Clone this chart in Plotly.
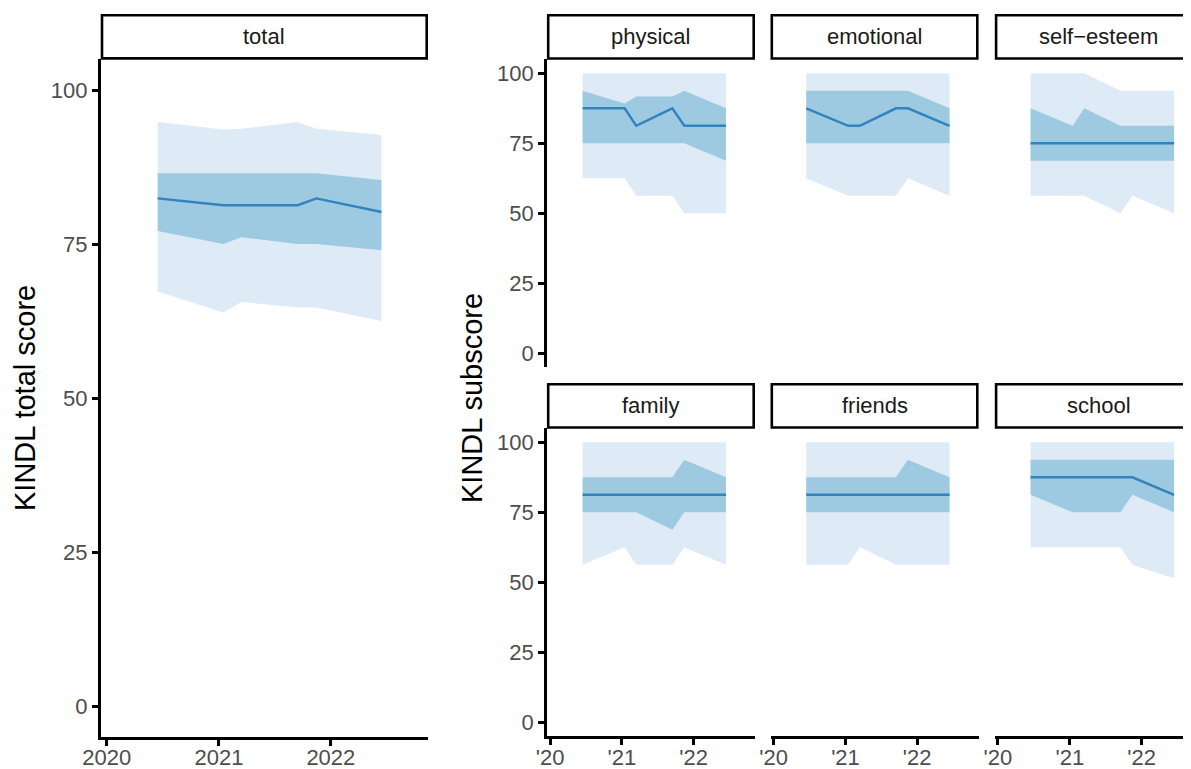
import plotly.graph_objects as go

W, H = 1191, 769
# the page body adds an 8px margin; place everything relative to the visible window
OX, OY = 8, 8

# ---------------- data ----------------
dates = ["2020-06-15", "2021-01-15", "2021-03-15", "2021-09-15", "2021-11-15", "2022-06-15"]

total_outer_hi = [94.8, 93.6, 93.7, 94.8, 93.7, 92.7]
total_inner_hi = [86.5, 86.5, 86.5, 86.5, 86.5, 85.4]
total_median = [82.4, 81.3, 81.3, 81.3, 82.4, 80.2]
total_inner_lo = [77.1, 75.0, 76.1, 75.0, 75.0, 74.0]
total_outer_lo = [67.3, 63.9, 65.6, 64.7, 64.7, 62.5]

physical_outer_hi = [100, 100, 100, 100, 100, 100]
physical_inner_hi = [93.75, 89.2, 91.7, 91.7, 93.75, 87.5]
physical_median = [87.5, 87.5, 81.25, 87.5, 81.25, 81.25]
physical_inner_lo = [75, 75, 75, 75, 75, 68.75]
physical_outer_lo = [62.5, 62.5, 56.25, 56.25, 50, 50]

emotional_outer_hi = [100, 100, 100, 100, 100, 100]
emotional_inner_hi = [93.75, 93.75, 93.75, 93.75, 93.75, 87.5]
emotional_median = [87.5, 81.25, 81.25, 87.5, 87.5, 81.25]
emotional_inner_lo = [75, 75, 75, 75, 75, 75]
emotional_outer_lo = [62.5, 56.25, 56.25, 56.25, 62.5, 56.25]

selfesteem_outer_hi = [100, 100, 100, 93.75, 93.75, 93.75]
selfesteem_inner_hi = [87.5, 81.25, 87.5, 81.25, 81.25, 81.25]
selfesteem_median = [75, 75, 75, 75, 75, 75]
selfesteem_inner_lo = [68.75, 68.75, 68.75, 68.75, 68.75, 68.75]
selfesteem_outer_lo = [56.25, 56.25, 56.25, 50, 56.25, 50]

family_outer_hi = [100, 100, 100, 100, 100, 100]
family_inner_hi = [87.5, 87.5, 87.5, 87.5, 93.75, 87.5]
family_median = [81.25, 81.25, 81.25, 81.25, 81.25, 81.25]
family_inner_lo = [75, 75, 75, 68.75, 75, 75]
family_outer_lo = [56.25, 62.5, 56.25, 56.25, 62.5, 56.25]

friends_outer_hi = [100, 100, 100, 100, 100, 100]
friends_inner_hi = [87.5, 87.5, 87.5, 87.5, 93.75, 87.5]
friends_median = [81.25, 81.25, 81.25, 81.25, 81.25, 81.25]
friends_inner_lo = [75, 75, 75, 75, 75, 75]
friends_outer_lo = [56.25, 56.25, 62.5, 56.25, 56.25, 56.25]

school_outer_hi = [100, 100, 100, 100, 100, 100]
school_inner_hi = [93.75, 93.75, 93.75, 93.75, 93.75, 93.75]
school_median = [87.5, 87.5, 87.5, 87.5, 87.5, 81.25]
school_inner_lo = [81.25, 75, 75, 75, 81.25, 75]
school_outer_lo = [62.5, 62.5, 62.5, 62.5, 56.25, 51.4]

y_ticks = [0, 25, 50, 75, 100]
x_tickvals = ["2020-01-01", "2021-01-01", "2022-01-01"]
x_ticktext_total = ["2020", "2021", "2022"]
x_ticktext_sub = ["'20", "'21", "'22"]

# ---------------- style ----------------
C_OUTER = "#deebf7"
C_INNER = "#9ecae1"
C_LINE = "#3182bd"
FONT = "Liberation Sans, Arial, sans-serif"
TICK_FONT = dict(family=FONT, size=22, color="#4d4d4d")
LW = 2.6

fig = go.Figure()


def px_x(v):
    return min(1.0, max(0.0, (v - OX) / W))


def px_y(v):
    return min(1.0, max(0.0, 1 - (v - OY) / H))


panels = [
    ("total", "total", 1, (100.7, 428.0), (59.2, 736.8), ["2019-12-12", "2022-11-14"], True, True,
     total_outer_lo, total_outer_hi, total_inner_lo, total_inner_hi, total_median, x_ticktext_total),
    ("physical", "physical", 2, (546.9, 755.0), (59.3, 367.3), ["2019-12-16", "2022-11-10"], False, True,
     physical_outer_lo, physical_outer_hi, physical_inner_lo, physical_inner_hi, physical_median, x_ticktext_sub),
    ("emotional", "emotional", 3, (770.5, 978.6), (59.3, 367.3), ["2019-12-16", "2022-11-10"], False, False,
     emotional_outer_lo, emotional_outer_hi, emotional_inner_lo, emotional_inner_hi, emotional_median, x_ticktext_sub),
    ("selfesteem", "self\u2212esteem", 4, (994.8, 1191.0), (59.3, 367.3), ["2019-12-16", "2022-09-09"], False, False,
     selfesteem_outer_lo, selfesteem_outer_hi, selfesteem_inner_lo, selfesteem_inner_hi, selfesteem_median, x_ticktext_sub),
    ("family", "family", 5, (546.9, 755.0), (428.3, 736.3), ["2019-12-16", "2022-11-10"], True, True,
     family_outer_lo, family_outer_hi, family_inner_lo, family_inner_hi, family_median, x_ticktext_sub),
    ("friends", "friends", 6, (770.5, 978.6), (428.3, 736.3), ["2019-12-16", "2022-11-10"], True, False,
     friends_outer_lo, friends_outer_hi, friends_inner_lo, friends_inner_hi, friends_median, x_ticktext_sub),
    ("school", "school", 7, (994.8, 1191.0), (428.3, 736.3), ["2019-12-16", "2022-09-09"], True, False,
     school_outer_lo, school_outer_hi, school_inner_lo, school_inner_hi, school_median, x_ticktext_sub),
]

shapes = []
annotations = []
layout_axes = {}

for (name, label, k, xd, yd, xr, showx, showy, olo, ohi, ilo, ihi, med, xtt) in panels:
    xa = "x" if k == 1 else f"x{k}"
    ya = "y" if k == 1 else f"y{k}"
    common = dict(xaxis=xa, yaxis=ya, hoverinfo="skip", showlegend=False, mode="lines")
    fig.add_trace(go.Scatter(x=dates, y=olo, line=dict(width=0, color=C_OUTER), **common))
    fig.add_trace(go.Scatter(x=dates, y=ohi, line=dict(width=0, color=C_OUTER), fill="tonexty",
                             fillcolor=C_OUTER, **common))
    fig.add_trace(go.Scatter(x=dates, y=ilo, line=dict(width=0, color=C_INNER), **common))
    fig.add_trace(go.Scatter(x=dates, y=ihi, line=dict(width=0, color=C_INNER), fill="tonexty",
                             fillcolor=C_INNER, **common))
    fig.add_trace(go.Scatter(x=dates, y=med, line=dict(width=2.4, color=C_LINE), **common))

    xkey = "xaxis" if k == 1 else f"xaxis{k}"
    ykey = "yaxis" if k == 1 else f"yaxis{k}"
    layout_axes[xkey] = dict(
        domain=[px_x(xd[0]), px_x(xd[1])], anchor=ya, type="date", range=xr,
        showgrid=False, zeroline=False, automargin=False,
        showline=showx, linecolor="black", linewidth=LW,
        ticks="outside" if showx else "", ticklen=6, tickwidth=LW, tickcolor="black",
        tickvals=x_tickvals, ticktext=xtt, showticklabels=showx, tickfont=TICK_FONT,
        ticklabelstandoff=-7,
        fixedrange=True,
    )
    layout_axes[ykey] = dict(
        domain=[px_y(yd[1]), px_y(yd[0])], anchor=xa, range=[-5, 105],
        showgrid=False, zeroline=False, automargin=False,
        showline=showy, linecolor="black", linewidth=LW,
        ticks="outside" if showy else "", ticklen=6, tickwidth=LW, tickcolor="black",
        tickvals=y_ticks, showticklabels=showy, tickfont=TICK_FONT,
        fixedrange=True,
    )

    # strip
    s_top = yd[0] - 45.3
    x1 = xd[1] if xd[1] < 1190 else xd[0] + 208.1
    shapes.append(dict(type="rect", xref="paper", yref="paper",
                       x0=(xd[0] + 1.3 - OX) / W, x1=(x1 - 1.3 - OX) / W,
                       y0=px_y(yd[0] - 0.8), y1=px_y(s_top + 1.3),
                       line=dict(color="black", width=2.6), fillcolor="white", layer="above"))
    annotations.append(dict(text=label, xref="paper", yref="paper",
                            x=(((xd[0] + x1) / 2) - OX) / W, y=px_y((s_top + yd[0]) / 2),
                            xanchor="center", yanchor="middle", showarrow=False,
                            font=dict(family=FONT, size=22, color="#1a1a1a")))

# axis titles
annotations.append(dict(text="KINDL total score", xref="paper", yref="paper",
                        x=px_x(25), y=px_y(398), textangle=-90, xanchor="center", yanchor="middle",
                        showarrow=False, font=dict(family=FONT, size=29, color="black")))
annotations.append(dict(text="KINDL subscore", xref="paper", yref="paper",
                        x=px_x(472), y=px_y(398), textangle=-90, xanchor="center", yanchor="middle",
                        showarrow=False, font=dict(family=FONT, size=29, color="black")))

fig.update_layout(
    width=W, height=H, margin=dict(l=0, r=0, t=0, b=0, autoexpand=False),
    paper_bgcolor="white", plot_bgcolor="white",
    shapes=shapes, annotations=annotations, showlegend=False,
    **layout_axes,
)

fig.write_html("out.html")
